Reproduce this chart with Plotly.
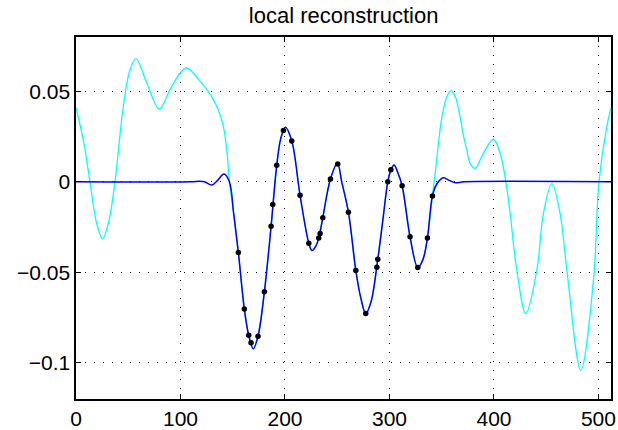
import plotly.graph_objects as go

# ---- data ----
# local reconstruction (blue curve) key points
blue_x = [0, 110, 118, 123, 129.9, 135, 141.7, 146.8, 151, 155.4, 161.1, 165.3, 169.7, 174.2,
          180.3, 186.7, 192.1, 196, 200.4, 206.5, 214.4, 222.8, 225.8, 229.5, 232.3, 236.2,
          243.5, 250.2, 254.3, 260.7, 267.8, 272.5, 277.3, 282.5, 288.3, 293.5, 298.4, 301.5,
          304.4, 308, 312.1, 319.7, 327.1, 332, 336.3, 341.1, 345.3, 351.6, 357, 362.8, 372, 512]
blue_y = [0, 0, 0.0003, 0, -0.0018, 0.0005, 0.0043, 0, -0.018, -0.0391, -0.0703, -0.0848,
          -0.0922, -0.0853, -0.0607, -0.0246, 0.0091, 0.024, 0.0302, 0.0226, -0.0074, -0.0339,
          -0.038, -0.0355, -0.0311, -0.0198, 0.0015, 0.0102, 0.0, -0.0168, -0.049, -0.064,
          -0.0728, -0.066, -0.045, -0.022, 0.0, 0.0067, 0.0093, 0.005, -0.0022, -0.0304,
          -0.0474, -0.043, -0.0311, -0.0078, -0.0012, 0.0022, 0.0008, -0.0005, 0, 0]

# sample points (black dots)
dot_x = [155.4, 161.1, 165.3, 167.5, 174.2, 180.3, 186.7, 188.3, 192.1, 198.5, 206.5, 214.4,
         222.8, 232.3, 233.6, 236.2, 243.5, 250.5, 260.7, 267.8, 277.3, 287.9, 288.8, 298.4,
         301.3, 312.1, 319.7, 327.1, 336.3, 341.1]
dot_y = [-0.0391, -0.0703, -0.0848, -0.0889, -0.0853, -0.0607, -0.0246, -0.0126, 0.0091,
         0.0283, 0.0226, -0.0074, -0.0339, -0.0311, -0.0285, -0.0198, 0.0015, 0.0098, -0.0168,
         -0.049, -0.0728, -0.0472, -0.0428, 0.0, 0.0067, -0.0022, -0.0304, -0.0474, -0.0311,
         -0.0078]

# original signal (cyan curve), outside the reconstructed window
cyan_left_x = [0, 7, 13.4, 19.4, 25.4, 31.3, 37.3, 45.3, 51.7, 57.4, 67.7, 79.8, 90, 99.6,
               106, 118.7, 125.1, 131.4, 136.2, 141, 144.3]
cyan_left_y = [0.0408, 0.0232, 0, -0.022, -0.0314, -0.022, 0, 0.0417, 0.062, 0.068, 0.0547,
               0.0402, 0.051, 0.060, 0.063, 0.0556, 0.051, 0.0454, 0.0398, 0.0306, 0.0176]
cyan_right_x = [344.6, 347, 350, 354.5, 358.7, 363, 367.5, 371, 374, 377.2, 382, 389.9, 399.5,
                405.9, 411.4, 415.5, 421.9, 430.5, 441, 447.3, 455.4, 463.3, 469.8, 483.1,
                495.2, 500.5, 508, 512]
cyan_right_y = [0.009, 0.022, 0.035, 0.0465, 0.0504, 0.047, 0.036, 0.025, 0.0176, 0.0102,
                0.0074, 0.0158, 0.0235, 0.0158, 0, -0.0176, -0.049, -0.0728, -0.049, -0.0176,
                -0.001, -0.0176, -0.049, -0.104, -0.0546, 0, 0.0306, 0.0408]

x_ticks = [0, 100, 200, 300, 400, 500]
y_ticks = [-0.1, -0.05, 0, 0.05]
y_tick_text = ["\u22120.1", "\u22120.05", "0", "0.05"]

# cyan signal coincides with the reconstruction inside the window
mid = [(x, y) for x, y in zip(blue_x, blue_y) if 146.8 <= x <= 341.1]
cyan_x = cyan_left_x + [p[0] for p in mid] + cyan_right_x
cyan_y = cyan_left_y + [p[1] for p in mid] + cyan_right_y

fig = go.Figure()
fig.add_trace(go.Scatter(x=cyan_x, y=cyan_y, mode="lines",
                         line=dict(color="#00ffff", width=1.3, shape="spline", smoothing=1),
                         hoverinfo="skip"))
fig.add_trace(go.Scatter(x=blue_x, y=blue_y, mode="lines",
                         line=dict(color="#0000ff", width=1.5, shape="spline", smoothing=1),
                         hoverinfo="skip"))
fig.add_trace(go.Scatter(x=dot_x, y=dot_y, mode="markers",
                         marker=dict(color="black", size=5.5), hoverinfo="skip"))

font = "Liberation Sans, Arial, Helvetica, sans-serif"
fig.update_layout(
    width=618, height=430,
    margin=dict(l=76, r=7, t=37, b=31, autoexpand=False),
    paper_bgcolor="white", plot_bgcolor="white",
    showlegend=False,
    title=dict(text="local reconstruction", x=0.556, xanchor="center", y=0.965, yanchor="middle",
               font=dict(family=font, size=22, color="black")),
    font=dict(family=font, size=21, color="black"),
)
axis_common = dict(showline=True, linecolor="black", linewidth=1.6, mirror="ticks",
                   ticks="inside", ticklen=5, tickcolor="black", tickwidth=1,
                   showgrid=True, gridcolor="black", griddash="1px,8px", gridwidth=1,
                   zeroline=False, automargin=False,
                   tickfont=dict(family=font, size=21, color="black"))
fig.update_xaxes(range=[0, 512], tickvals=x_ticks, **axis_common)
fig.update_yaxes(range=[-0.12, 0.08], tickvals=y_ticks, ticktext=y_tick_text, **axis_common)

fig.write_html("out.html", config={"displayModeBar": False, "staticPlot": True},
               post_script="document.body.style.margin='0';")
